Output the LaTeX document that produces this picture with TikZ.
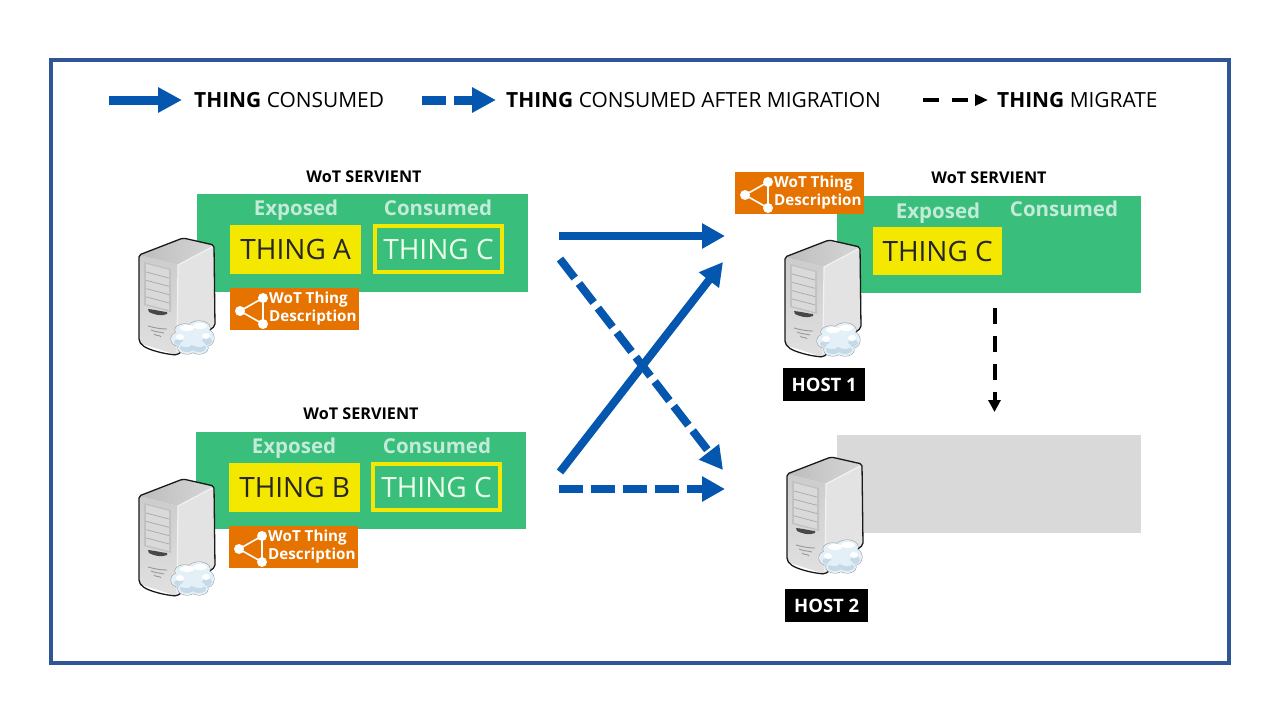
\documentclass[tikz,border=0pt]{standalone}
\usepackage{fontspec}
\setmainfont{Open Sans}
\usetikzlibrary{arrows.meta,positioning}
\definecolor{framecol}{HTML}{2F5597}
\definecolor{arrowcol}{HTML}{0556AE}
\definecolor{greencol}{HTML}{39BE7C}
\definecolor{yellowcol}{HTML}{F5E800}
\definecolor{orangecol}{HTML}{E67300}
\definecolor{greycol}{HTML}{D9D9D9}
\definecolor{labelcol}{HTML}{C3EBD8}
\definecolor{cloudcol}{HTML}{E4F0F8}
\definecolor{cloudshade}{HTML}{C4DAE8}
\newcommand{\fsize}[1]{\fontsize{#1}{#1}\selectfont}
\tikzset{
  servient/.style={fill=greencol, anchor=north west, inner sep=0pt},
  thingbox/.style={fill=yellowcol, anchor=north west, inner sep=0pt, text=black!85, font=\fsize{28}, align=center},
  consumedbox/.style={draw=yellowcol, line width=4pt, anchor=north west, inner sep=0pt, text=white!92!green, font=\fsize{28}, align=center},
  sidelabel/.style={text=labelcol, font=\bfseries\fsize{20.5}, inner sep=0pt, anchor=base},
  servienttitle/.style={font=\bfseries\fsize{16.2}, inner sep=0pt},
  hostbox/.style={fill=black, text=white, font=\bfseries\fsize{18.5}, anchor=north west, inner sep=0pt},
  legendtext/.style={anchor=west, inner sep=0pt, font=\fsize{20.9}},
  bigarr/.style={line width=8pt, arrowcol, -{Triangle[length=23pt,width=24pt]}},
  legarr/.style={line width=9pt, arrowcol, -{Triangle[length=24pt,width=24pt]}},
  blackarr/.style={line width=4pt, black, dash pattern=on 16pt off 12pt, -{Triangle[length=12pt,width=12pt]}},
  pics/wotbadge/.style={code={
    \node[fill=orangecol, minimum width=129pt, minimum height=42pt, inner sep=0pt, anchor=north west] (-box) at (0,0) {};
    \draw[white, line width=1.6pt] (10,23) -- (33,10) -- (33,36) -- cycle;
    \fill[white] (10,23) circle [radius=5] (33,10) circle [radius=5] (33,36) circle [radius=5];
    \node[anchor=west, text=white, font=\bfseries\fsize{15.2}, align=left, inner sep=0pt, execute at begin node={\baselineskip=18pt}] (-text) at (39,21) {WoT Thing\\Description};
  }},
  pics/server/.style={code={
    % body
    \fill[white!89!black] (39,27) -- (75,8) -- (76,88) -- (38,117) -- cycle;
    \shade[top color=white!80!black, bottom color=white!88!black] (0,17) -- (39,27) -- (38,117) -- (3,106) -- (0,104) -- cycle;
    \shade[left color=white!74!black, right color=white!84!black] (0,17) -- (44,0) -- (75,8) -- (39,27) -- cycle;
    \draw[white!95!black, line width=1.2pt] (39,27) -- (75,8) (39,27) -- (38,116);
    \draw[black!90, line width=1.3pt, rounded corners=2pt] (0,17) -- (44,0) -- (75,7) -- (76,88) -- (38,117) .. controls (25,116) and (10,112) .. (3,107) -- (0,103) -- cycle;
    % front panel
    \fill[white!76!black] (5,24) -- (32,31) -- (32,74) -- (5,67) -- cycle;
    \fill[white!85!black] (7,26) -- (30,32) -- (30,72) -- (7,66) -- cycle;
    \foreach \i in {0,1,2,3}
      \draw[white!66!black, line width=.7pt] (7,{34+8.3*\i}) -- (30,{40+8.3*\i});
    % slot and vents
    \fill[black!72] (9,71) .. controls (18,72) and (25,74) .. (28,74) -- (28,76) .. controls (22,79) and (14,76) .. (10,74) -- cycle;
    \foreach \i in {0,1,2}
      \draw[white!60!black, line width=.9pt] ({9+\i*3},{88+\i*4}) .. controls (16,{90+\i*4}) and (22,{91+\i*3}) .. ({28-\i*3},{91+\i*4});
    % cloud
    \draw[black!40, line width=1pt] (46,92) ellipse [x radius=10, y radius=6] (60,90) ellipse [x radius=11, y radius=7]
      (40,101) ellipse [x radius=8, y radius=7] (68,100) ellipse [x radius=7, y radius=8]
      (48,110) ellipse [x radius=9, y radius=6] (60,110) ellipse [x radius=9, y radius=6];
    \fill[cloudcol] (46,92) ellipse [x radius=10, y radius=6] (60,90) ellipse [x radius=11, y radius=7]
      (40,101) ellipse [x radius=8, y radius=7] (68,100) ellipse [x radius=7, y radius=8]
      (48,110) ellipse [x radius=9, y radius=6] (60,110) ellipse [x radius=9, y radius=6] (54,100) ellipse [x radius=18, y radius=11];
    \fill[cloudshade] (48,110) ellipse [x radius=7, y radius=4] (60,110) ellipse [x radius=7, y radius=4] (40,104) ellipse [x radius=5, y radius=3] (68,103) ellipse [x radius=5, y radius=4];
    \fill[cloudcol] (47,106) ellipse [x radius=6, y radius=3] (60,106) ellipse [x radius=6, y radius=3] (53,98) ellipse [x radius=11, y radius=5];
    \fill[white] (48,90) ellipse [x radius=7, y radius=3] (61,88) ellipse [x radius=7, y radius=3] (41,99) ellipse [x radius=4, y radius=3] (67,98) ellipse [x radius=4, y radius=3];
  }}
}
\begin{document}
\begin{tikzpicture}[x=1pt, y=-1pt]
\useasboundingbox (0,0) rectangle (1280,720);
\draw[framecol, line width=4pt] (51,60) rectangle (1229,663);

% legend
\coordinate (la) at (109,100);
\coordinate (lb) at (182,100);
\coordinate (lc) at (422,100);
\coordinate (ld) at (496,100);
\coordinate (le) at (923,100);
\coordinate (lf) at (988,100);
\draw[legarr] (la) -- (lb);
\draw[legarr, dash pattern=on 24pt off 8pt] (lc) -- (ld);
\draw[line width=3.500pt, dash pattern=on 16pt off 13pt, -{Triangle[length=13pt,width=11pt]}] (le) -- (lf);
\node[legendtext] (t1) at (194,100) {\textbf{THING} CONSUMED};
\node[legendtext] (t2) at (506,100) {\textbf{THING} CONSUMED AFTER MIGRATION};
\node[legendtext] (t3) at (997,100) {\textbf{THING} MIGRATE};

% left top
\node[servient, minimum width=331pt, minimum height=98pt] (sa) at (197,194) {};
\node[servienttitle] (tsa) at (364,177) {WoT SERVIENT};
\node[sidelabel] (ea) at (296,215.500) {Exposed};
\node[sidelabel] (ca) at (438,215) {Consumed};
\node[thingbox, minimum width=131pt, minimum height=49pt] (ta) at (230,225) {THING A};
\node[consumedbox, minimum width=127pt, minimum height=46pt] (tca) at (373,224) {THING C};
\pic (ba) at (230,288) {wotbadge};
\pic (hosta) at (139,238) {server};

% left bottom
\node[servient, minimum width=330pt, minimum height=97pt] (sb) at (196,432) {};
\node[servienttitle] (tsb) at (361,414) {WoT SERVIENT};
\node[sidelabel] (eb) at (294,453.500) {Exposed};
\node[sidelabel] (cb) at (437,453) {Consumed};
\node[thingbox, minimum width=131pt, minimum height=49pt] (tb) at (229,463) {THING B};
\node[consumedbox, minimum width=127pt, minimum height=46pt] (tcb) at (371,462) {THING C};
\pic (bb) at (229,526) {wotbadge};
\pic (hostb) at (139,479) {server};

% right top
\node[servient, minimum width=304pt, minimum height=97pt] (sc) at (837,196) {};
\node[servienttitle] (tsc) at (989,178) {WoT SERVIENT};
\node[sidelabel] (ec) at (938,218) {Exposed};
\node[sidelabel] (cc) at (1064,216) {Consumed};
\node[thingbox, minimum width=129pt, minimum height=48pt] (tc) at (873,227) {THING C};
\pic (bc) at (735,172) {wotbadge};
\pic (hostc) at (785,240) {server};
\node[hostbox, minimum width=82pt, minimum height=33pt] (ha) at (783,368) {HOST 1};

% right bottom
\node[servient, fill=greycol, minimum width=304pt, minimum height=98pt] (sd) at (837,435) {};
\pic (hostd) at (787,457) {server};
\node[hostbox, minimum width=83pt, minimum height=33pt] (hb) at (785,589) {HOST 2};

% connectors
\coordinate (a1) at (559,236);
\coordinate (a2) at (725,236);
\coordinate (b1) at (560,259);
\coordinate (b2) at (723,470);
\coordinate (c1) at (560,472);
\coordinate (c2) at (723,262);
\coordinate (d1) at (559,489);
\coordinate (d2) at (725,489);
\coordinate (m1) at (994.500,308);
\coordinate (m2) at (994.500,412);
\draw[bigarr] (a1) -- (a2);
\draw[bigarr, dash pattern=on 24pt off 7pt] (b1) -- (b2);
\draw[bigarr] (c1) -- (c2);
\draw[bigarr, dash pattern=on 24pt off 8pt] (d1) -- (d2);
\draw[blackarr] (m1) -- (m2);
\end{tikzpicture}
\end{document}
